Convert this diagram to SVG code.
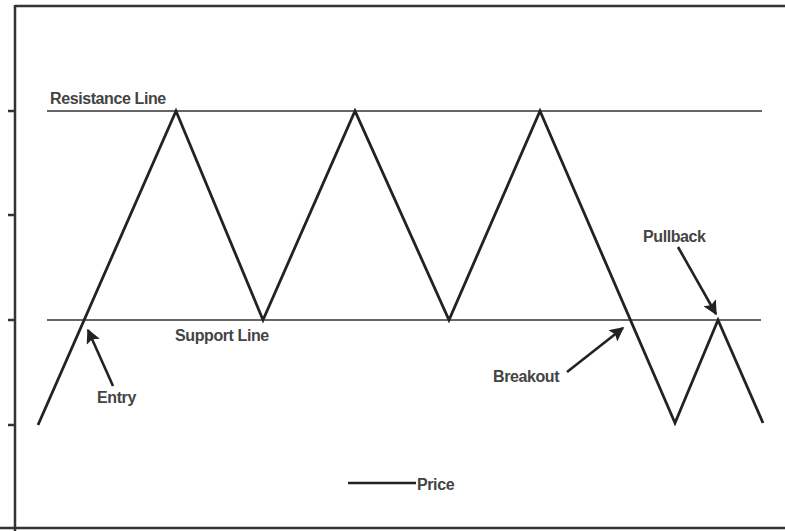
<svg xmlns="http://www.w3.org/2000/svg" width="785" height="531" viewBox="0 0 785 531">
<style>
.frame{stroke:#333;stroke-width:2.5;fill:none}
.level{stroke:#333;stroke-width:1.6;fill:none}
.price{stroke:#222;stroke-width:2.8;fill:none;stroke-linejoin:miter}
.arrow{stroke:#222;stroke-width:2.6;fill:none}
.lbl{font-family:"Liberation Sans",Arial,sans-serif;font-size:16px;font-weight:bold;fill:#444;letter-spacing:-0.4px}
</style>
<defs>
<marker id="ah" viewBox="0 0 10 10" refX="9" refY="5" markerWidth="6.5" markerHeight="5.5" orient="auto" markerUnits="strokeWidth">
<path d="M0,0 L10,5 L0,10 L2,5 z" fill="#222"/>
</marker>
</defs>
<rect width="785" height="531" fill="#fff"/>
<g id="frame">
<line class="frame" x1="15" y1="6" x2="785" y2="6"/>
<line class="frame" x1="15" y1="5" x2="15" y2="531"/>
<line class="frame" x1="0" y1="528" x2="785" y2="528"/>
<line class="frame" x1="8" y1="111" x2="15" y2="111"/>
<line class="frame" x1="8" y1="215" x2="15" y2="215"/>
<line class="frame" x1="8" y1="320" x2="15" y2="320"/>
<line class="frame" x1="8" y1="425" x2="15" y2="425"/>
</g>
<g id="resistance">
<line class="level" x1="47" y1="111" x2="762" y2="111"/>
<text class="lbl" x="50" y="104">Resistance Line</text>
</g>
<g id="support">
<line class="level" x1="47" y1="320" x2="761" y2="320"/>
<text class="lbl" x="175" y="341">Support Line</text>
</g>
<g id="price">
<polyline class="price" points="38,425 176,111 263,320 355,111 449,320 540,111 675,423 718,320 763,423"/>
</g>
<g id="connectors">
<line class="arrow" x1="113" y1="386" x2="88" y2="330" marker-end="url(#ah)"/>
<line class="arrow" x1="567" y1="372" x2="623" y2="328" marker-end="url(#ah)"/>
<line class="arrow" x1="678" y1="247" x2="716" y2="314" marker-end="url(#ah)"/>
</g>
<g id="entry"><text class="lbl" x="97" y="403">Entry</text></g>
<g id="breakout"><text class="lbl" x="493" y="382">Breakout</text></g>
<g id="pullback"><text class="lbl" x="643" y="242">Pullback</text></g>
<g id="legend">
<line class="arrow" x1="348" y1="483" x2="416" y2="483"/>
<text class="lbl" x="417" y="490">Price</text>
</g>
</svg>
